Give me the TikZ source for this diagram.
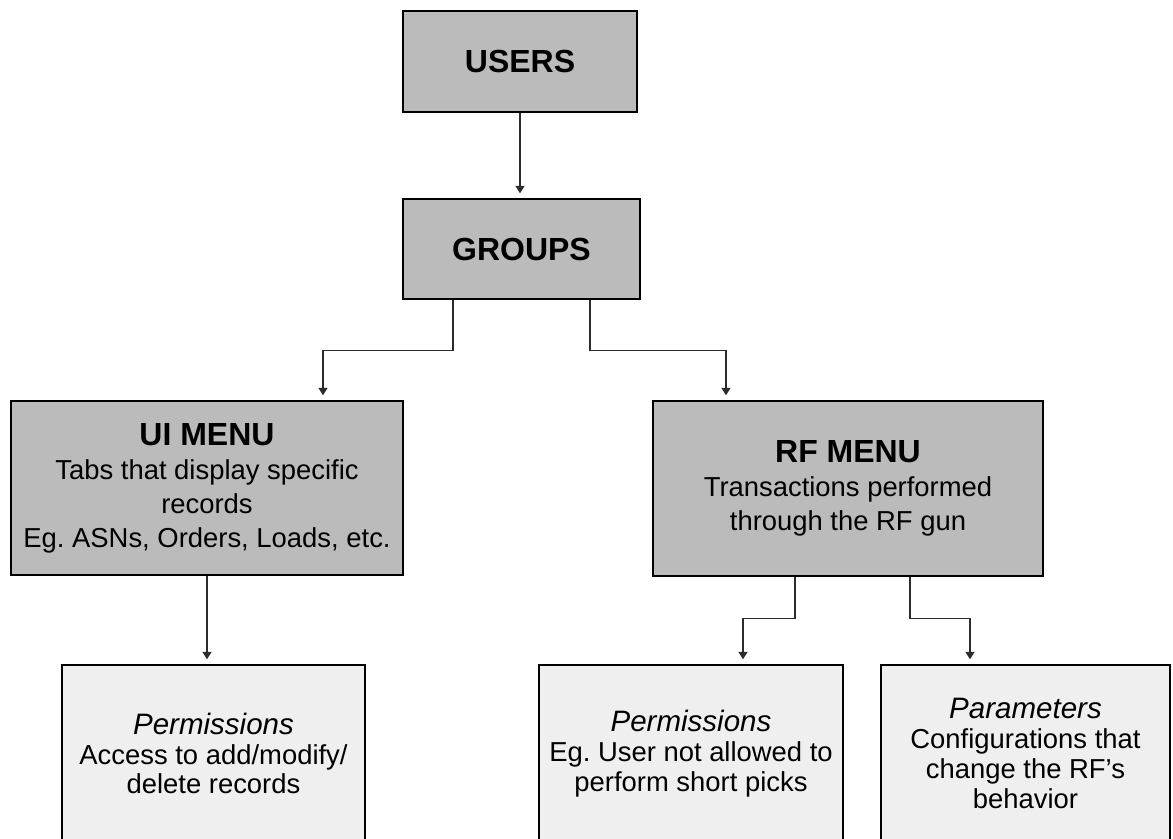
\documentclass[tikz,border=0pt]{standalone}
\usepackage{fontspec}
\setmainfont{Liberation Sans}
\usetikzlibrary{arrows.meta}
\definecolor{MenuGray}{HTML}{BBBBBB}
\definecolor{LeafGray}{HTML}{EFEFEF}
\definecolor{LinkDark}{HTML}{2B2B2B}
\newcommand{\boxtitle}[1]{{\fontsize{18.2}{19}\selectfont\bfseries #1}}
\newcommand{\leaftitle}[1]{{\fontsize{16.8}{18}\selectfont\itshape #1}}
\frenchspacing

\begin{document}
\begin{tikzpicture}[
    menubox/.style={draw=black, line width=0.8pt, fill=MenuGray, align=center, inner sep=0pt, font=\fontsize{15.6}{19.3}\selectfont},
    leafbox/.style={menubox, fill=LeafGray, font=\fontsize{15.6}{16.9}\selectfont},
    link/.style={draw=LinkDark, line width=0.8pt, -{Triangle[width=0.18cm, length=0.15cm]}, shorten >=0.1cm}
]
    \clip (0,0) rectangle (23.46,-16.76);

    % --- Top: users and groups ---
    \node[menubox, minimum width=4.68cm, minimum height=2.02cm] (users) at (10.4, -1.23) {\boxtitle{USERS}};
    \node[menubox, minimum width=4.74cm, minimum height=2.0cm] (groups) at (10.43, -4.98) {\boxtitle{GROUPS}};

    % --- Menus ---
    \node[menubox, minimum width=7.84cm, minimum height=3.48cm] (uimenu) at (4.14, -9.76)
        {\boxtitle{UI MENU}\\Tabs that display specific\\records\\Eg. ASNs, Orders, Loads, etc.};
    \node[menubox, minimum width=7.8cm, minimum height=3.5cm] (rfmenu) at (16.96, -9.77)
        {\boxtitle{RF MENU}\\Transactions performed\\through the RF gun};

    % --- Leaves (cut off at the bottom) ---
    \node[leafbox, minimum width=6.06cm, minimum height=3.54cm] (permleft) at (4.27, -15.07)
        {\leaftitle{Permissions}\\Access to add/modify/\\delete records};
    \node[leafbox, minimum width=6.08cm, minimum height=3.54cm] (permright) at (13.82, -15.07)
        {\leaftitle{Permissions}\\Eg. User not allowed to\\perform short picks};
    \node[leafbox, minimum width=5.78cm, minimum height=3.54cm] (params) at (20.51, -15.07)
        {\leaftitle{Parameters}\\Configurations that\\change the RF’s\\behavior};

    % Connectors
    \draw[link] (users.south) -- (users.south |- groups.north);
    \draw[link] ([xshift=-1.37cm]groups.south) -- ++(0,-1.02) -| ([xshift=2.32cm]uimenu.north);
    \draw[link] ([xshift=1.37cm]groups.south) -- ++(0,-1.02) -| ([xshift=-2.44cm]rfmenu.north);
    \draw[link] (uimenu.south) -- (uimenu.south |- permleft.north);
    \draw[link] ([xshift=-1.06cm]rfmenu.south) -- ++(0,-0.84) -| ([xshift=1.04cm]permright.north);
    \draw[link] ([xshift=1.24cm]rfmenu.south) -- ++(0,-0.84) -| ([xshift=-1.11cm]params.north);
\end{tikzpicture}
\end{document}
